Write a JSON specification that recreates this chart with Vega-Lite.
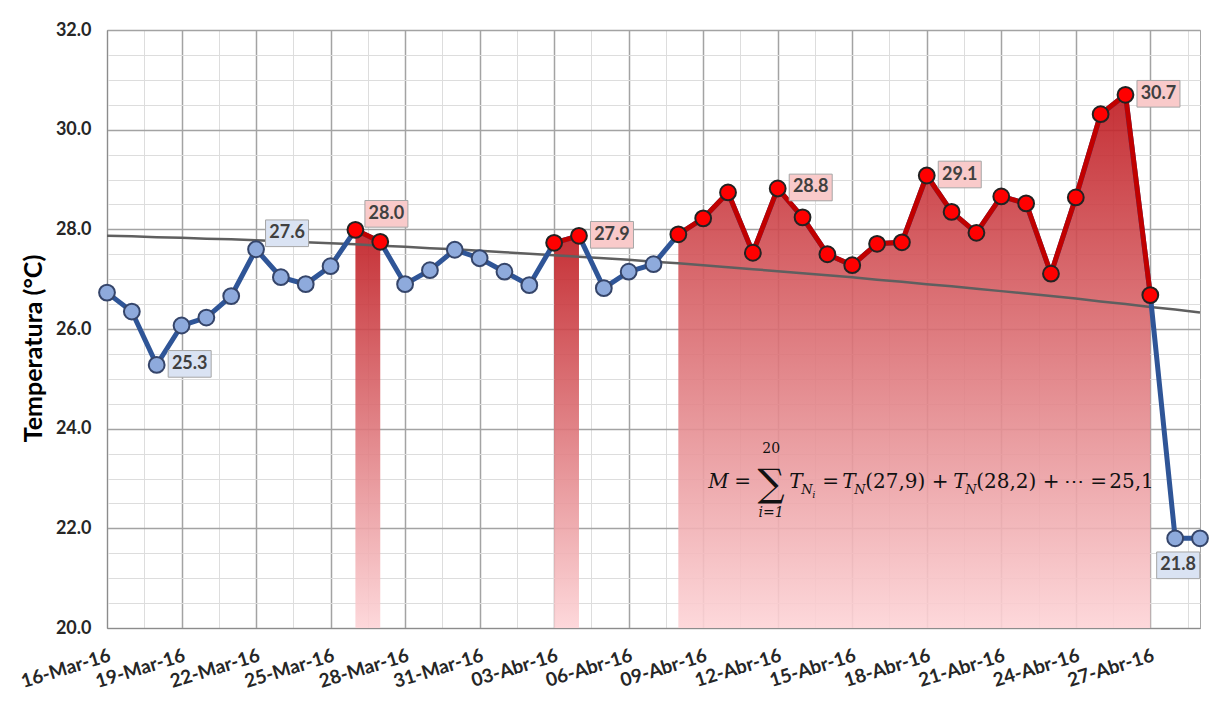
{
  "$schema": "https://vega.github.io/schema/vega-lite/v6.json",
  "width": 1093,
  "height": 598,
  "autosize": "none",
  "padding": {"left": 107, "top": 30, "right": 10, "bottom": 78},
  "background": "white",
  "config": {"font": "Lato", "view": {"stroke": "#a6a6a6", "strokeWidth": 1}},
  "datasets": {
    "temperatura": [
      {"fecha": "2016-03-16", "temp": 26.73, "normal": 27.87, "grupo": "bajo"},
      {"fecha": "2016-03-17", "temp": 26.35, "normal": 27.86, "grupo": "bajo"},
      {"fecha": "2016-03-18", "temp": 25.28, "normal": 27.84, "grupo": "bajo", "etiqueta": "25.3", "pos": "derecha"},
      {"fecha": "2016-03-19", "temp": 26.07, "normal": 27.83, "grupo": "bajo"},
      {"fecha": "2016-03-20", "temp": 26.23, "normal": 27.81, "grupo": "bajo"},
      {"fecha": "2016-03-21", "temp": 26.66, "normal": 27.80, "grupo": "bajo"},
      {"fecha": "2016-03-22", "temp": 27.60, "normal": 27.78, "grupo": "bajo", "etiqueta": "27.6", "pos": "arriba"},
      {"fecha": "2016-03-23", "temp": 27.04, "normal": 27.76, "grupo": "bajo"},
      {"fecha": "2016-03-24", "temp": 26.90, "normal": 27.74, "grupo": "bajo"},
      {"fecha": "2016-03-25", "temp": 27.26, "normal": 27.72, "grupo": "bajo"},
      {"fecha": "2016-03-26", "temp": 27.99, "normal": 27.70, "grupo": "sobre", "tramo": "A", "etiqueta": "28.0", "pos": "arriba"},
      {"fecha": "2016-03-27", "temp": 27.75, "normal": 27.67, "grupo": "sobre", "tramo": "A"},
      {"fecha": "2016-03-28", "temp": 26.90, "normal": 27.65, "grupo": "bajo"},
      {"fecha": "2016-03-29", "temp": 27.18, "normal": 27.62, "grupo": "bajo"},
      {"fecha": "2016-03-30", "temp": 27.59, "normal": 27.60, "grupo": "bajo"},
      {"fecha": "2016-03-31", "temp": 27.42, "normal": 27.57, "grupo": "bajo"},
      {"fecha": "2016-04-01", "temp": 27.15, "normal": 27.54, "grupo": "bajo"},
      {"fecha": "2016-04-02", "temp": 26.88, "normal": 27.51, "grupo": "bajo"},
      {"fecha": "2016-04-03", "temp": 27.73, "normal": 27.48, "grupo": "sobre", "tramo": "B"},
      {"fecha": "2016-04-04", "temp": 27.87, "normal": 27.45, "grupo": "sobre", "tramo": "B", "etiqueta": "27.9", "pos": "derecha"},
      {"fecha": "2016-04-05", "temp": 26.82, "normal": 27.42, "grupo": "bajo"},
      {"fecha": "2016-04-06", "temp": 27.15, "normal": 27.39, "grupo": "bajo"},
      {"fecha": "2016-04-07", "temp": 27.30, "normal": 27.35, "grupo": "bajo"},
      {"fecha": "2016-04-08", "temp": 27.90, "normal": 27.32, "grupo": "sobre", "tramo": "C"},
      {"fecha": "2016-04-09", "temp": 28.22, "normal": 27.28, "grupo": "sobre", "tramo": "C"},
      {"fecha": "2016-04-10", "temp": 28.74, "normal": 27.24, "grupo": "sobre", "tramo": "C"},
      {"fecha": "2016-04-11", "temp": 27.53, "normal": 27.20, "grupo": "sobre", "tramo": "C"},
      {"fecha": "2016-04-12", "temp": 28.82, "normal": 27.16, "grupo": "sobre", "tramo": "C", "etiqueta": "28.8", "pos": "derecha"},
      {"fecha": "2016-04-13", "temp": 28.24, "normal": 27.12, "grupo": "sobre", "tramo": "C"},
      {"fecha": "2016-04-14", "temp": 27.50, "normal": 27.08, "grupo": "sobre", "tramo": "C"},
      {"fecha": "2016-04-15", "temp": 27.28, "normal": 27.04, "grupo": "sobre", "tramo": "C"},
      {"fecha": "2016-04-16", "temp": 27.71, "normal": 26.99, "grupo": "sobre", "tramo": "C"},
      {"fecha": "2016-04-17", "temp": 27.74, "normal": 26.95, "grupo": "sobre", "tramo": "C"},
      {"fecha": "2016-04-18", "temp": 29.08, "normal": 26.90, "grupo": "sobre", "tramo": "C", "etiqueta": "29.1", "pos": "derecha"},
      {"fecha": "2016-04-19", "temp": 28.35, "normal": 26.86, "grupo": "sobre", "tramo": "C"},
      {"fecha": "2016-04-20", "temp": 27.93, "normal": 26.81, "grupo": "sobre", "tramo": "C"},
      {"fecha": "2016-04-21", "temp": 28.66, "normal": 26.76, "grupo": "sobre", "tramo": "C"},
      {"fecha": "2016-04-22", "temp": 28.52, "normal": 26.71, "grupo": "sobre", "tramo": "C"},
      {"fecha": "2016-04-23", "temp": 27.11, "normal": 26.66, "grupo": "sobre", "tramo": "C"},
      {"fecha": "2016-04-24", "temp": 28.64, "normal": 26.61, "grupo": "sobre", "tramo": "C"},
      {"fecha": "2016-04-25", "temp": 30.31, "normal": 26.55, "grupo": "sobre", "tramo": "C"},
      {"fecha": "2016-04-26", "temp": 30.70, "normal": 26.50, "grupo": "sobre", "tramo": "C", "etiqueta": "30.7", "pos": "derecha"},
      {"fecha": "2016-04-27", "temp": 26.68, "normal": 26.44, "grupo": "sobre", "tramo": "C"},
      {"fecha": "2016-04-28", "temp": 21.80, "normal": 26.39, "grupo": "bajo", "etiqueta": "21.8", "pos": "abajo"},
      {"fecha": "2016-04-29", "temp": 21.80, "normal": 26.33, "grupo": "bajo"}
    ],
    "formula": [{"fecha": "2016-04-09", "temp": 22.8}]
  },
  "data": {"name": "temperatura"},
  "encoding": {
    "x": {
      "field": "fecha",
      "type": "temporal",
      "scale": {
        "type": "utc",
        "domain": [
          {"year": 2016, "month": 3, "date": 16, "utc": true},
          {"year": 2016, "month": 4, "date": 29, "utc": true}
        ]
      },
      "axis": {
        "title": null,
        "values": [
          {"year": 2016, "month": 3, "date": 16, "utc": true},
          {"year": 2016, "month": 3, "date": 17, "hours": 12, "utc": true},
          {"year": 2016, "month": 3, "date": 19, "utc": true},
          {"year": 2016, "month": 3, "date": 20, "hours": 12, "utc": true},
          {"year": 2016, "month": 3, "date": 22, "utc": true},
          {"year": 2016, "month": 3, "date": 23, "hours": 12, "utc": true},
          {"year": 2016, "month": 3, "date": 25, "utc": true},
          {"year": 2016, "month": 3, "date": 26, "hours": 12, "utc": true},
          {"year": 2016, "month": 3, "date": 28, "utc": true},
          {"year": 2016, "month": 3, "date": 29, "hours": 12, "utc": true},
          {"year": 2016, "month": 3, "date": 31, "utc": true},
          {"year": 2016, "month": 4, "date": 1, "hours": 12, "utc": true},
          {"year": 2016, "month": 4, "date": 3, "utc": true},
          {"year": 2016, "month": 4, "date": 4, "hours": 12, "utc": true},
          {"year": 2016, "month": 4, "date": 6, "utc": true},
          {"year": 2016, "month": 4, "date": 7, "hours": 12, "utc": true},
          {"year": 2016, "month": 4, "date": 9, "utc": true},
          {"year": 2016, "month": 4, "date": 10, "hours": 12, "utc": true},
          {"year": 2016, "month": 4, "date": 12, "utc": true},
          {"year": 2016, "month": 4, "date": 13, "hours": 12, "utc": true},
          {"year": 2016, "month": 4, "date": 15, "utc": true},
          {"year": 2016, "month": 4, "date": 16, "hours": 12, "utc": true},
          {"year": 2016, "month": 4, "date": 18, "utc": true},
          {"year": 2016, "month": 4, "date": 19, "hours": 12, "utc": true},
          {"year": 2016, "month": 4, "date": 21, "utc": true},
          {"year": 2016, "month": 4, "date": 22, "hours": 12, "utc": true},
          {"year": 2016, "month": 4, "date": 24, "utc": true},
          {"year": 2016, "month": 4, "date": 25, "hours": 12, "utc": true},
          {"year": 2016, "month": 4, "date": 27, "utc": true},
          {"year": 2016, "month": 4, "date": 28, "hours": 12, "utc": true}
        ],
        "labelExpr": "((+datum.value - 1458086400000) % 259200000 === 0) ? (utcFormat(datum.value, '%d') + '-' + (utcmonth(datum.value) === 2 ? 'Mar' : 'Abr') + '-16') : ''",
        "labelAngle": -17,
        "labelAlign": "right",
        "labelBaseline": "top",
        "labelFont": "Lato",
        "labelFontSize": 19,
        "labelFontWeight": "bold",
        "labelColor": "#262626",
        "labelOverlap": false,
        "labelBound": false,
        "labelFlush": false,
        "labelPadding": 18,
        "ticks": false,
        "domainColor": "#8c8c8c",
        "grid": true,
        "gridColor": {"condition": {"test": "(+datum.value - 1458086400000) % 259200000 === 0", "value": "#a3a3a3"}, "value": "#dddddd"},
        "gridWidth": {"condition": {"test": "(+datum.value - 1458086400000) % 259200000 === 0", "value": 1.5}, "value": 1}
      }
    },
    "y": {
      "field": "temp",
      "type": "quantitative",
      "stack": null,
      "scale": {"domain": [20, 32], "nice": false, "zero": false},
      "axis": {
        "title": "Temperatura (°C)",
        "titleFont": "Lato",
        "titleFontSize": 25,
        "titleFontWeight": "bold",
        "titleColor": "#000000",
        "titlePadding": 9,
        "titleY": 318,
        "values": [20, 20.5, 21, 21.5, 22, 22.5, 23, 23.5, 24, 24.5, 25, 25.5, 26, 26.5, 27, 27.5, 28, 28.5, 29, 29.5, 30, 30.5, 31, 31.5, 32],
        "labelExpr": "datum.value % 2 === 0 ? format(datum.value, '.1f') : ''",
        "labelFont": "Lato",
        "labelFontSize": 18,
        "labelFontWeight": "bold",
        "labelColor": "#262626",
        "labelPadding": 16,
        "labelOverlap": false,
        "ticks": false,
        "domainColor": "#8c8c8c",
        "grid": true,
        "gridColor": {"condition": {"test": "datum.value % 2 === 0", "value": "#a3a3a3"}, "value": "#dddddd"},
        "gridWidth": {"condition": {"test": "datum.value % 2 === 0", "value": 1.5}, "value": 1}
      }
    }
  },
  "layer": [
    {
      "transform": [{"filter": "datum.tramo != null"}],
      "mark": {
        "type": "area",
        "interpolate": "linear",
        "fillOpacity": 0.9,
        "fill": {
          "gradient": "linear",
          "x1": 0, "y1": 0, "x2": 0, "y2": 1,
          "stops": [
            {"offset": 0, "color": "#bf1a20"},
            {"offset": 1, "color": "#fdd4d7"}
          ]
        }
      },
      "encoding": {
        "y2": {"datum": 20},
        "detail": {"field": "tramo"}
      }
    },
    {
      "mark": {"type": "line", "color": "#5f5f5f", "strokeWidth": 2.5},
      "encoding": {
        "y": {
          "field": "normal",
          "type": "quantitative",
          "scale": {"domain": [20, 32], "nice": false, "zero": false},
          "axis": {
            "title": "Temperatura (°C)",
            "titleFont": "Lato",
            "titleFontSize": 25,
            "titleFontWeight": "bold",
            "titleColor": "#000000",
            "titlePadding": 9,
            "titleY": 318,
            "values": [20, 20.5, 21, 21.5, 22, 22.5, 23, 23.5, 24, 24.5, 25, 25.5, 26, 26.5, 27, 27.5, 28, 28.5, 29, 29.5, 30, 30.5, 31, 31.5, 32],
            "labelExpr": "datum.value % 2 === 0 ? format(datum.value, '.1f') : ''",
            "labelFont": "Lato",
            "labelFontSize": 18,
            "labelFontWeight": "bold",
            "labelColor": "#262626",
            "labelPadding": 16,
            "labelOverlap": false,
            "ticks": false,
            "domainColor": "#8c8c8c",
            "grid": true,
            "gridColor": {"condition": {"test": "datum.value % 2 === 0", "value": "#a3a3a3"}, "value": "#dddddd"},
            "gridWidth": {"condition": {"test": "datum.value % 2 === 0", "value": 1.5}, "value": 1}
          }
        }
      }
    },
    {
      "mark": {"type": "line", "color": "#2f5597", "strokeWidth": 5},
      "encoding": {}
    },
    {
      "transform": [{"filter": "datum.tramo != null"}],
      "mark": {"type": "line", "color": "#c00000", "strokeWidth": 5},
      "encoding": {"detail": {"field": "tramo"}}
    },
    {
      "mark": {"type": "point", "shape": "circle", "filled": true, "size": 250, "strokeWidth": 2, "opacity": 1},
      "encoding": {
        "fill": {"condition": {"test": "datum.grupo === 'sobre'", "value": "#ff0000"}, "value": "#8eaadc"},
        "stroke": {"condition": {"test": "datum.grupo === 'sobre'", "value": "#222222"}, "value": "#35456a"}
      }
    },
    {
      "transform": [{"filter": "datum.pos === 'derecha'"}],
      "mark": {"type": "point", "shape": "M-1,-0.62L1,-0.62L1,0.62L-1,0.62Z", "filled": true, "size": 1849, "opacity": 1, "strokeWidth": 1, "xOffset": 33, "yOffset": -1},
      "encoding": {
        "fill": {"condition": {"test": "datum.grupo === 'sobre'", "value": "#f9caca"}, "value": "#dae3f3"},
        "stroke": {"value": "#a6a6a6"}
      }
    },
    {
      "transform": [{"filter": "datum.pos === 'derecha'"}],
      "mark": {"type": "text", "font": "Lato", "fontSize": 18, "fontWeight": "bold", "color": "#404040", "dx": 33, "dy": -1, "align": "center", "baseline": "middle"},
      "encoding": {"text": {"field": "etiqueta"}}
    },
    {
      "transform": [{"filter": "datum.pos === 'arriba'"}],
      "mark": {"type": "point", "shape": "M-1,-0.62L1,-0.62L1,0.62L-1,0.62Z", "filled": true, "size": 1849, "opacity": 1, "strokeWidth": 1, "xOffset": 31, "yOffset": -16},
      "encoding": {
        "fill": {"condition": {"test": "datum.grupo === 'sobre'", "value": "#f9caca"}, "value": "#dae3f3"},
        "stroke": {"value": "#a6a6a6"}
      }
    },
    {
      "transform": [{"filter": "datum.pos === 'arriba'"}],
      "mark": {"type": "text", "font": "Lato", "fontSize": 18, "fontWeight": "bold", "color": "#404040", "dx": 31, "dy": -16, "align": "center", "baseline": "middle"},
      "encoding": {"text": {"field": "etiqueta"}}
    },
    {
      "transform": [{"filter": "datum.pos === 'abajo'"}],
      "mark": {"type": "point", "shape": "M-1,-0.62L1,-0.62L1,0.62L-1,0.62Z", "filled": true, "size": 1849, "opacity": 1, "strokeWidth": 1, "xOffset": 3, "yOffset": 27},
      "encoding": {
        "fill": {"condition": {"test": "datum.grupo === 'sobre'", "value": "#f9caca"}, "value": "#dae3f3"},
        "stroke": {"value": "#a6a6a6"}
      }
    },
    {
      "transform": [{"filter": "datum.pos === 'abajo'"}],
      "mark": {"type": "text", "font": "Lato", "fontSize": 18, "fontWeight": "bold", "color": "#404040", "dx": 3, "dy": 27, "align": "center", "baseline": "middle"},
      "encoding": {"text": {"field": "etiqueta"}}
    },
    {"data": {"name": "formula"}, "mark": {"type": "text", "text": "M", "font": "DejaVu Serif", "fontStyle": "italic", "fontSize": 20, "align": "left", "baseline": "alphabetic", "dx": 5, "color": "#111111"}},
    {"data": {"name": "formula"}, "mark": {"type": "text", "text": "=", "font": "DejaVu Serif", "fontSize": 20, "align": "left", "baseline": "alphabetic", "dx": 31, "color": "#111111"}},
    {"data": {"name": "formula"}, "mark": {"type": "text", "text": "∑", "font": "DejaVu Serif", "fontSize": 38, "align": "center", "baseline": "alphabetic", "dx": 68, "dy": 8, "color": "#111111"}},
    {"data": {"name": "formula"}, "mark": {"type": "text", "text": "20", "font": "DejaVu Serif", "fontSize": 14, "align": "center", "baseline": "alphabetic", "dx": 68, "dy": -35, "color": "#111111"}},
    {"data": {"name": "formula"}, "mark": {"type": "text", "text": "i=1", "font": "DejaVu Serif", "fontStyle": "italic", "fontSize": 14, "align": "center", "baseline": "alphabetic", "dx": 68, "dy": 29, "color": "#111111"}},
    {"data": {"name": "formula"}, "mark": {"type": "text", "text": "T", "font": "DejaVu Serif", "fontStyle": "italic", "fontSize": 20, "align": "left", "baseline": "alphabetic", "dx": 86, "color": "#111111"}},
    {"data": {"name": "formula"}, "mark": {"type": "text", "text": "N", "font": "DejaVu Serif", "fontStyle": "italic", "fontSize": 13, "align": "left", "baseline": "alphabetic", "dx": 98, "dy": 6, "color": "#111111"}},
    {"data": {"name": "formula"}, "mark": {"type": "text", "text": "i", "font": "DejaVu Serif", "fontStyle": "italic", "fontSize": 10, "align": "left", "baseline": "alphabetic", "dx": 109, "dy": 10, "color": "#111111"}},
    {"data": {"name": "formula"}, "mark": {"type": "text", "text": "=", "font": "DejaVu Serif", "fontSize": 20, "align": "left", "baseline": "alphabetic", "dx": 119, "color": "#111111"}},
    {"data": {"name": "formula"}, "mark": {"type": "text", "text": "T", "font": "DejaVu Serif", "fontStyle": "italic", "fontSize": 20, "align": "left", "baseline": "alphabetic", "dx": 139, "color": "#111111"}},
    {"data": {"name": "formula"}, "mark": {"type": "text", "text": "N", "font": "DejaVu Serif", "fontStyle": "italic", "fontSize": 13, "align": "left", "baseline": "alphabetic", "dx": 151, "dy": 6, "color": "#111111"}},
    {"data": {"name": "formula"}, "mark": {"type": "text", "text": "(27,9) +", "font": "DejaVu Serif", "fontSize": 20, "align": "left", "baseline": "alphabetic", "dx": 162, "color": "#111111"}},
    {"data": {"name": "formula"}, "mark": {"type": "text", "text": "T", "font": "DejaVu Serif", "fontStyle": "italic", "fontSize": 20, "align": "left", "baseline": "alphabetic", "dx": 250, "color": "#111111"}},
    {"data": {"name": "formula"}, "mark": {"type": "text", "text": "N", "font": "DejaVu Serif", "fontStyle": "italic", "fontSize": 13, "align": "left", "baseline": "alphabetic", "dx": 262, "dy": 6, "color": "#111111"}},
    {"data": {"name": "formula"}, "mark": {"type": "text", "text": "(28,2) +", "font": "DejaVu Serif", "fontSize": 20, "align": "left", "baseline": "alphabetic", "dx": 273, "color": "#111111"}},
    {"data": {"name": "formula"}, "mark": {"type": "text", "text": "⋯", "font": "DejaVu Serif", "fontSize": 20, "align": "left", "baseline": "alphabetic", "dx": 361, "color": "#111111"}},
    {"data": {"name": "formula"}, "mark": {"type": "text", "text": "=", "font": "DejaVu Serif", "fontSize": 20, "align": "left", "baseline": "alphabetic", "dx": 387, "color": "#111111"}},
    {"data": {"name": "formula"}, "mark": {"type": "text", "text": "25,1", "font": "DejaVu Serif", "fontSize": 20, "align": "left", "baseline": "alphabetic", "dx": 406, "color": "#111111"}}
  ]
}
